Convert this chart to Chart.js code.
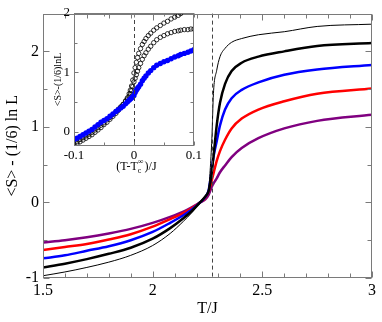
<!DOCTYPE html>
<html>
<head>
<meta charset="utf-8">
<script src="https://cdn.jsdelivr.net/npm/chart.js@4/dist/chart.umd.min.js"></script>
<style>
  body { margin: 0; background: #fff; }
  #wrap { position: relative; width: 382px; height: 322px; }
  #mainChart { position: absolute; left: 0; top: 0; }
  #insetChart { position: absolute; left: 44px; top: 0; }
</style>
</head>
<body>
<div id="wrap">
  <canvas id="mainChart" width="382" height="322"></canvas>
  <canvas id="insetChart" width="160" height="180"></canvas>
</div>
<script>
// main panel: <S> - (1/6) ln L vs T/J
var tValues = [1.5, 1.6, 1.7, 1.8, 1.9, 2.0, 2.08, 2.14, 2.18, 2.216, 2.24, 2.255, 2.262, 2.27, 2.277, 2.292, 2.307, 2.33, 2.36, 2.406, 2.482, 2.6, 2.75, 3.0];
var thinBlack  = [-0.97, -0.92, -0.86, -0.79, -0.70, -0.57, -0.41, -0.25, -0.13, 0, 0.09, 0.17, 0.42, 0.85, 1.44, 1.75, 1.93, 2.04, 2.12, 2.17, 2.22, 2.26, 2.33, 2.36];
var thickBlack = [-0.86, -0.81, -0.75, -0.68, -0.60, -0.48, -0.34, -0.21, -0.11, 0, 0.08, 0.15, 0.25, 0.42, 0.60, 1.02, 1.32, 1.57, 1.74, 1.85, 1.93, 2.00, 2.07, 2.11];
var blueLine   = [-0.74, -0.70, -0.64, -0.58, -0.50, -0.39, -0.27, -0.17, -0.09, 0, 0.07, 0.16, 0.28, 0.45, 0.60, 0.81, 1.02, 1.23, 1.38, 1.49, 1.59, 1.69, 1.76, 1.82];
var redLine    = [-0.63, -0.59, -0.55, -0.49, -0.42, -0.32, -0.22, -0.14, -0.07, 0, 0.06, 0.14, 0.21, 0.30, 0.38, 0.55, 0.68, 0.83, 0.98, 1.11, 1.23, 1.34, 1.44, 1.51];
var purpleLine = [-0.53, -0.50, -0.46, -0.41, -0.35, -0.27, -0.19, -0.12, -0.06, 0, 0.04, 0.10, 0.15, 0.21, 0.25, 0.32, 0.40, 0.49, 0.60, 0.72, 0.85, 0.98, 1.08, 1.16];
var tc = 2.269;

var xTicks = [1.5, 2, 2.5, 3];
var xTickLabels = ["1.5", "2", "2.5", "3"];
var xMinor = [1.6, 1.7, 1.8, 1.9, 2.1, 2.2, 2.3, 2.4, 2.6, 2.7, 2.8, 2.9];
var yTicks = [-1, 0, 1, 2];
var yTickLabels = ["-1", "0", "1", "2"];
var yMinor = [-0.5, 0.5, 1.5];

// inset: scaled data vs (T - Tc)/J
var insetAx = [-0.1, -0.095, -0.09, -0.085, -0.08, -0.075, -0.07, -0.065, -0.06, -0.055, -0.05, -0.045, -0.04, -0.035, -0.03, -0.026, -0.022, -0.018, -0.014, -0.011, -0.008, -0.006, -0.004, -0.002, 0, 0.002, 0.004, 0.006, 0.008, 0.011, 0.014, 0.017, 0.02, 0.024, 0.028, 0.033, 0.038, 0.044, 0.05, 0.056, 0.062, 0.068, 0.074, 0.078];
var insetAy = [-0.23, -0.20, -0.17, -0.14, -0.11, -0.08, -0.05, -0.01, 0.03, 0.07, 0.12, 0.16, 0.21, 0.26, 0.31, 0.36, 0.41, 0.46, 0.52, 0.57, 0.64, 0.70, 0.77, 0.87, 0.99, 1.08, 1.17, 1.25, 1.32, 1.40, 1.47, 1.52, 1.57, 1.62, 1.66, 1.71, 1.75, 1.79, 1.83, 1.86, 1.90, 1.93, 1.96, 1.99];
var insetBx = [-0.1, -0.095, -0.09, -0.085, -0.08, -0.075, -0.07, -0.065, -0.06, -0.055, -0.05, -0.045, -0.04, -0.035, -0.03, -0.026, -0.022, -0.018, -0.014, -0.011, -0.008, -0.006, -0.004, -0.002, 0, 0.002, 0.004, 0.006, 0.008, 0.011, 0.014, 0.017, 0.02, 0.024, 0.028, 0.033, 0.038, 0.044, 0.05, 0.056, 0.062, 0.068, 0.074, 0.078, 0.084, 0.09, 0.095, 0.1];
var insetBy = [-0.20, -0.17, -0.13, -0.10, -0.07, -0.04, -0.01, 0.03, 0.07, 0.11, 0.15, 0.20, 0.24, 0.29, 0.34, 0.38, 0.42, 0.46, 0.51, 0.55, 0.60, 0.64, 0.69, 0.76, 0.84, 0.90, 0.96, 1.02, 1.08, 1.15, 1.22, 1.28, 1.33, 1.39, 1.44, 1.50, 1.55, 1.59, 1.62, 1.65, 1.67, 1.69, 1.70, 1.71, 1.72, 1.72, 1.73, 1.73];
var insetCx = insetBx;
var insetCy = [-0.13, -0.11, -0.08, -0.05, -0.02, 0.01, 0.04, 0.08, 0.12, 0.16, 0.19, 0.22, 0.26, 0.30, 0.34, 0.37, 0.40, 0.43, 0.47, 0.50, 0.53, 0.55, 0.57, 0.59, 0.61, 0.66, 0.70, 0.73, 0.76, 0.80, 0.86, 0.90, 0.94, 0.99, 1.03, 1.08, 1.12, 1.15, 1.18, 1.20, 1.23, 1.26, 1.28, 1.30, 1.32, 1.34, 1.36, 1.38];
var insetXTicks = [-0.1, 0, 0.1];
var insetXLabels = ["-0.1", "0", "0.1"];
var insetXMinor = [-0.05, 0.05];
var insetYTicks = [0, 1, 2];
var insetYLabels = ["0", "1", "2"];
var insetYMinor = [0.5, 1.5];

var serif = "'Liberation Serif', 'Times New Roman', serif";
var frameColor = "#7a7a7a";

function pairs(xs, ys) {
    return xs.map(function (x, i) { return { x: x, y: ys[i] }; });
}

// frame, inward ticks on all sides, dashed marker line
function frameTicks(cfg) {
    return {
        id: "frameTicks",
        afterDatasetsDraw: function (chart) {
            var ctx = chart.ctx, a = chart.chartArea;
            var sx = chart.scales.x, sy = chart.scales.y;
            ctx.save();
            var dx = Math.round(sx.getPixelForValue(cfg.dashAt)) + 0.5;
            ctx.strokeStyle = "#444";
            ctx.lineWidth = 1;
            ctx.setLineDash([4, 3]);
            ctx.beginPath();
            ctx.moveTo(dx, a.top);
            ctx.lineTo(dx, a.bottom);
            ctx.stroke();
            ctx.setLineDash([]);

            ctx.strokeStyle = frameColor;
            ctx.lineWidth = 1;
            var l = Math.round(a.left) + 0.5, r = Math.round(a.right) - 0.5;
            var t = Math.round(a.top) + 0.5, b = Math.round(a.bottom) - 0.5;
            ctx.strokeRect(l, t, r - l, b - t);
            ctx.beginPath();
            function xt(v, len) {
                var p = Math.round(sx.getPixelForValue(v)) + 0.5;
                ctx.moveTo(p, b); ctx.lineTo(p, b - len);
                ctx.moveTo(p, t); ctx.lineTo(p, t + len);
            }
            function yt(v, len) {
                var p = Math.round(sy.getPixelForValue(v)) + 0.5;
                ctx.moveTo(l, p); ctx.lineTo(l + len, p);
                ctx.moveTo(r, p); ctx.lineTo(r - len, p);
            }
            cfg.xMajor.forEach(function (v) { xt(v, cfg.major); });
            cfg.xMinor.forEach(function (v) { xt(v, cfg.minor); });
            cfg.yMajor.forEach(function (v) { yt(v, cfg.major); });
            cfg.yMinor.forEach(function (v) { yt(v, cfg.minor); });
            ctx.stroke();
            ctx.restore();
        }
    };
}

function lineSet(label, values, color, width, order) {
    return {
        label: label,
        data: pairs(tValues, values),
        showLine: true,
        borderColor: color,
        borderWidth: width,
        pointRadius: 0,
        cubicInterpolationMode: "monotone",
        order: order
    };
}

new Chart(document.getElementById("mainChart").getContext("2d"), {
    type: "scatter",
    data: {
        datasets: [
            lineSet("L1", thinBlack, "#000000", 1, 0),
            lineSet("L2", thickBlack, "#000000", 2.5, 1),
            lineSet("L3", blueLine, "#0000ff", 2.5, 2),
            lineSet("L4", redLine, "#ff0000", 2.5, 3),
            lineSet("L5", purpleLine, "#800080", 2.5, 4)
        ]
    },
    options: {
        responsive: false,
        animation: false,
        devicePixelRatio: 1,
        layout: { padding: { top: 4, right: 10, left: 0, bottom: 0 } },
        plugins: { legend: { display: false }, tooltip: { enabled: false } },
        scales: {
            x: {
                type: "linear", min: 1.5, max: 3,
                grid: { display: false, drawTicks: false },
                border: { display: false },
                afterFit: function (s) { s.height = 44; },
                afterBuildTicks: function (s) { s.ticks = xTicks.map(function (v) { return { value: v }; }); },
                ticks: {
                    padding: 3, color: "#000", maxRotation: 0, autoSkip: false,
                    font: { family: serif, size: 16 },
                    callback: function (v) { return xTickLabels[xTicks.indexOf(v)]; }
                },
                title: { display: true, text: "T/J", color: "#000", font: { family: serif, size: 16 }, padding: { top: 0, bottom: 4 } }
            },
            y: {
                type: "linear", min: -1, max: 2.5,
                grid: { display: false, drawTicks: false },
                border: { display: false },
                afterFit: function (s) { s.width = 43; },
                afterBuildTicks: function (s) { s.ticks = yTicks.map(function (v) { return { value: v }; }); },
                ticks: {
                    padding: 4, color: "#000",
                    font: { family: serif, size: 16 },
                    callback: function (v) { return yTickLabels[yTicks.indexOf(v)]; }
                },
                title: { display: true, text: "<S> - (1/6) ln L", color: "#000", font: { family: serif, size: 16 }, padding: { top: 3, bottom: 0 } }
            }
        }
    },
    plugins: [frameTicks({ dashAt: tc, xMajor: xTicks, xMinor: xMinor, yMajor: yTicks, yMinor: yMinor, major: 6, minor: 4 })]
});

var insetTitle = {
    id: "insetTitle",
    afterDraw: function (chart) {
        var ctx = chart.ctx;
        var big = "12px " + serif, small = "8px " + serif;
        ctx.save();
        ctx.fillStyle = "#000";
        ctx.textBaseline = "alphabetic";
        ctx.font = big;
        var w1 = ctx.measureText("(T-T").width;
        var w3 = ctx.measureText(")/J").width;
        ctx.font = small;
        var w2 = Math.max(ctx.measureText("c").width, ctx.measureText("\u221e").width);
        var cx = chart.scales.x.getPixelForValue(0) + 2;
        var x0 = cx - (w1 + w2 + w3) / 2, y0 = 170;
        ctx.font = big;
        ctx.fillText("(T-T", x0, y0);
        ctx.font = small;
        ctx.fillText("c", x0 + w1, y0 + 3);
        ctx.fillText("\u221e", x0 + w1, y0 - 6);
        ctx.font = big;
        ctx.fillText(")/J", x0 + w1 + w2 + 1, y0);
        ctx.restore();
    }
};

function openCircles(label, xs, ys, order) {
    return {
        label: label, data: pairs(xs, ys), showLine: false,
        pointRadius: 2.2, pointBorderColor: "#000", pointBorderWidth: 0.8,
        pointBackgroundColor: "rgba(0,0,0,0)", order: order
    };
}

new Chart(document.getElementById("insetChart").getContext("2d"), {
    type: "scatter",
    data: {
        datasets: [
            openCircles("A", insetAx, insetAy, 1),
            openCircles("B", insetBx, insetBy, 2),
            {
                label: "C", data: pairs(insetCx, insetCy), showLine: false,
                pointRadius: 2.7, pointBorderWidth: 0,
                pointBorderColor: "#0000ff", pointBackgroundColor: "#0000ff", order: 0
            }
        ]
    },
    options: {
        responsive: false,
        animation: false,
        devicePixelRatio: 1,
        layout: { padding: { top: 13, right: 7, left: 0, bottom: 0 } },
        plugins: { legend: { display: false }, tooltip: { enabled: false } },
        scales: {
            x: {
                type: "linear", min: -0.1, max: 0.1,
                grid: { display: false, drawTicks: false },
                border: { display: false },
                afterFit: function (s) { s.height = 34; },
                afterBuildTicks: function (s) { s.ticks = insetXTicks.map(function (v) { return { value: v }; }); },
                ticks: {
                    padding: 2, color: "#000", maxRotation: 0, autoSkip: false,
                    font: { family: serif, size: 13 },
                    callback: function (v) { return insetXLabels[insetXTicks.indexOf(v)]; }
                }
            },
            y: {
                type: "linear", min: -0.24, max: 2,
                grid: { display: false, drawTicks: false },
                border: { display: false },
                afterFit: function (s) { s.width = 30; },
                afterBuildTicks: function (s) { s.ticks = insetYTicks.map(function (v) { return { value: v }; }); },
                ticks: {
                    padding: 4, color: "#000",
                    font: { family: serif, size: 13 },
                    callback: function (v) { return insetYLabels[insetYTicks.indexOf(v)]; }
                },
                title: { display: true, text: "<S>-(1/6)lnL", color: "#000", font: { family: serif, size: 10 }, padding: { top: 8, bottom: 0 } }
            }
        }
    },
    plugins: [frameTicks({ dashAt: 0, xMajor: insetXTicks, xMinor: insetXMinor, yMajor: insetYTicks, yMinor: insetYMinor, major: 4, minor: 3 }), insetTitle]
});
</script>
</body>
</html>
